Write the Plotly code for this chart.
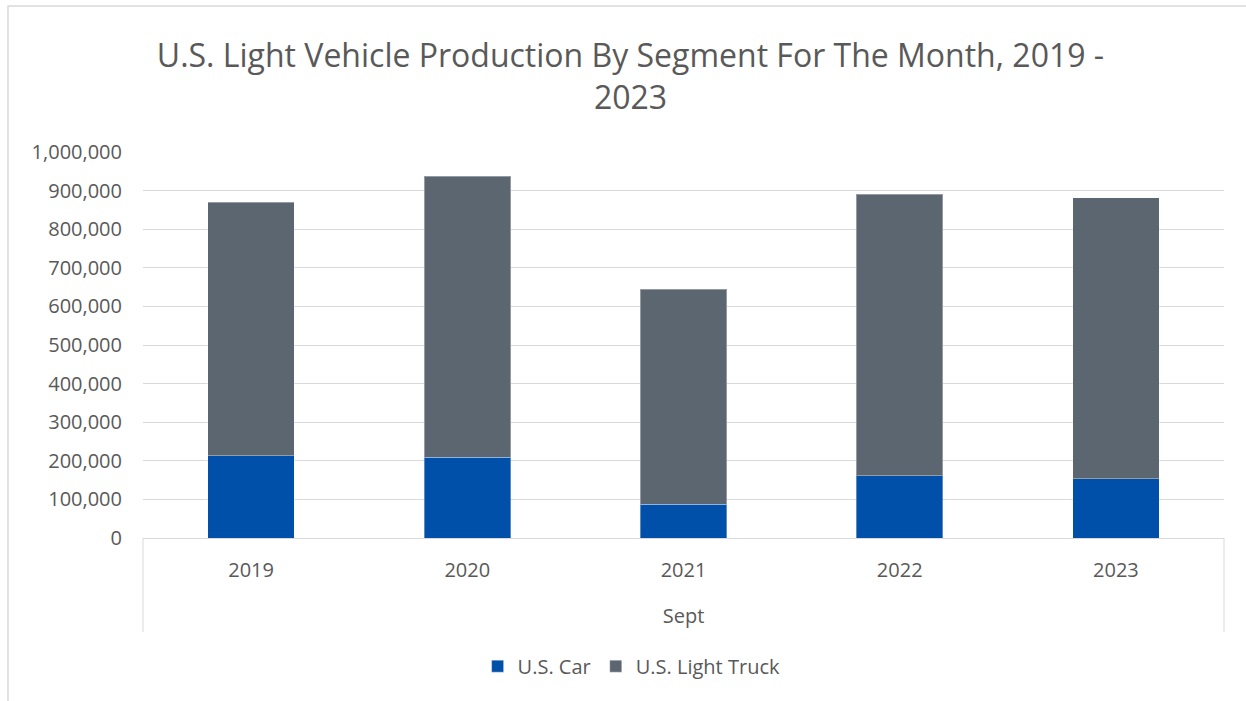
import plotly.graph_objects as go

years = ["2019", "2020", "2021", "2022", "2023"]
us_car = [213000, 209000, 88000, 161000, 154000]
us_light_truck = [657000, 728000, 556000, 730000, 728000]
y_ticks = [0, 100000, 200000, 300000, 400000, 500000, 600000, 700000, 800000, 900000, 1000000]

TEXT = "#595959"
GRID = "#D9D9D9"
FONT = "Open Sans"

fig = go.Figure()
fig.add_trace(go.Bar(name="U.S. Car", x=years, y=us_car,
                     marker=dict(color="#004FA9", line=dict(color="rgba(255,255,255,0.35)", width=1))))
fig.add_trace(go.Bar(name="U.S. Light Truck", x=years, y=us_light_truck,
                     marker=dict(color="#5B6670", line=dict(color="rgba(255,255,255,0.35)", width=1))))

fig.update_layout(
    barmode="stack",
    bargap=0.6,
    width=1246, height=701,
    margin=dict(l=143, r=22, t=152, b=163),
    paper_bgcolor="white", plot_bgcolor="white",
    font=dict(family=FONT, color=TEXT, size=20),
    title=dict(text="U.S. Light Vehicle Production By Segment For The Month, 2019 -<br>2023",
               x=0.506, xref="container", xanchor="center",
               y=0.904, yref="container", yanchor="middle",
               font=dict(family=FONT, size=32, color=TEXT)),
    legend=dict(orientation="h", x=0.452, xanchor="center", y=-0.332, yanchor="middle",
                font=dict(size=20, color=TEXT), traceorder="normal"),
    showlegend=True,
)
fig.update_xaxes(type="category", showgrid=False, showline=True, linecolor=GRID, linewidth=1,
                 ticks="", ticklabelstandoff=14,
                 title=dict(text="Sept", standoff=26, font=dict(size=20, color=TEXT)))
fig.update_yaxes(range=[0, 1000000], tickvals=y_ticks, tickformat=",", showgrid=True,
                 gridcolor=GRID, gridwidth=1, zeroline=False, showline=False,
                 ticks="", ticklabelstandoff=20)

# axis group dividers and chart border
fig.add_shape(type="line", xref="paper", yref="paper", x0=0, x1=0, y0=0, y1=-0.2435,
              line=dict(color=GRID, width=1))
fig.add_shape(type="line", xref="paper", yref="paper", x0=1, x1=1, y0=0, y1=-0.2435,
              line=dict(color=GRID, width=1))
fig.add_shape(type="rect", xref="paper", yref="paper", x0=-0.1249, x1=1.03, y0=-0.45, y1=1.378,
              line=dict(color=GRID, width=1.5), fillcolor="rgba(0,0,0,0)", layer="below")

fig.write_html("out.html", config={"displayModeBar": False},
               post_script="document.body.style.margin='0';document.body.style.overflow='hidden';")
